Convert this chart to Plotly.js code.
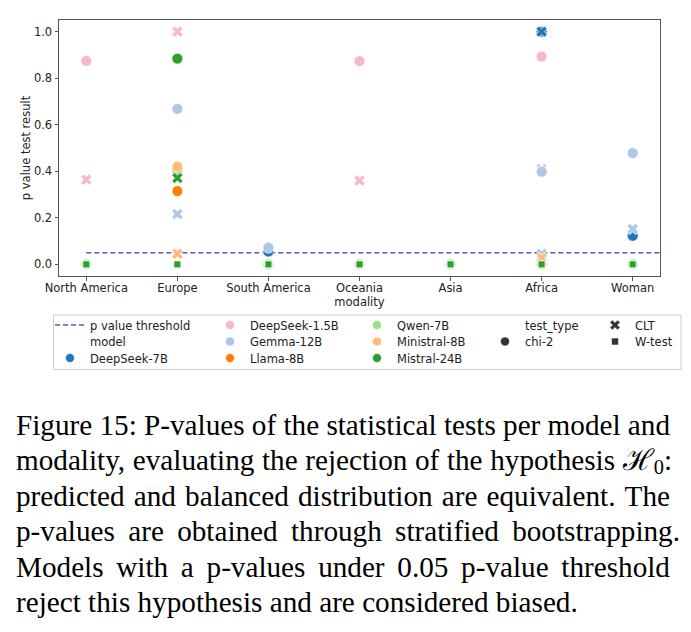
<!DOCTYPE html>
<html>
<head>
<meta charset="utf-8">
<script src="https://cdn.plot.ly/plotly-3.0.1.min.js"></script>
<style>
html,body{margin:0;padding:0;background:#fff;}
#wrap{position:relative;width:691px;height:632px;overflow:hidden;background:#fff;}
#chart{position:absolute;left:0;top:0;width:691px;height:632px;}
#caption{position:absolute;left:16px;top:408px;font-family:"Liberation Serif","Times New Roman",serif;font-size:29.2px;line-height:35.4px;color:#000;}
.ln{display:flex;justify-content:space-between;white-space:nowrap;}
.ln.last{justify-content:flex-start;gap:0.25em;}
sub{font-size:0.7em;line-height:0;vertical-align:-0.22em;}
</style>
</head>
<body>
<div id="wrap">
  <div id="chart"></div>
  <div id="caption"></div>
</div>
<script>
// ---------------- data ----------------
const categories = ["North America","Europe","South America","Oceania","Asia","Africa","Woman"];
const models = ["DeepSeek-7B","DeepSeek-1.5B","Gemma-12B","Llama-8B","Qwen-7B","Ministral-8B","Mistral-24B"];
const modelColors = ["#1f77b4","#f7b6d2","#aec7e8","#ff7f0e","#98df8a","#ffbb78","#2ca02c"];
const testTypes = ["chi-2","CLT","W-test"];

// p-values per modality (null = not visible in the figure)
const deepseek7b_chi2  = [null, null, 0.055, null, null, 1.0, 0.123];
const deepseek7b_clt   = [null, null, null, null, null, 1.0, null];
const deepseek7b_w     = [0, 0, 0, 0, 0, 0, 0];
const deepseek15b_chi2 = [0.874, null, null, 0.873, null, 0.893, null];
const deepseek15b_clt  = [0.364, 1.0, null, 0.360, null, 0.410, null];
const deepseek15b_w    = [0, 0, 0, 0, 0, 0, 0];
const gemma12b_chi2    = [null, 0.668, 0.072, null, null, 0.398, 0.478];
const gemma12b_clt     = [null, 0.216, null, null, null, 0.045, 0.152];
const gemma12b_w       = [0, 0, 0, 0, 0, 0, 0];
const llama8b_chi2     = [null, 0.315, null, null, null, null, null];
const llama8b_clt      = [null, null, null, null, null, null, null];
const llama8b_w        = [0, 0, 0, 0, 0, 0, 0];
const qwen7b_chi2      = [0, 0.405, 0, 0, 0, 0, 0];
const qwen7b_clt       = [null, null, null, null, null, null, null];
const qwen7b_w         = [0, 0, 0, 0, 0, 0, 0];
const ministral8b_chi2 = [null, 0.420, null, null, null, null, null];
const ministral8b_clt  = [null, 0.045, null, null, null, 0.028, null];
const ministral8b_w    = [0, 0, 0, 0, 0, 0, 0];
const mistral24b_chi2  = [null, 0.884, null, null, null, null, null];
const mistral24b_clt   = [null, 0.371, null, null, null, null, null];
const mistral24b_w     = [0, 0, 0, 0, 0, 0, 0];

const thresholdValue = 0.05;
const thresholdLabel = "p value threshold";
const yTickValues = [0.0, 0.2, 0.4, 0.6, 0.8, 1.0];

const captionLines = [
  "Figure 15: P-values of the statistical tests per model and",
  "modality, evaluating the rejection of the hypothesis ℋ<sub>0</sub>:",
  "predicted and balanced distribution are equivalent. The",
  "p-values are obtained through stratified bootstrapping.",
  "Models with a p-values under 0.05 p-value threshold",
  "reject this hypothesis and are considered biased."
];

// ---------------- build ----------------
const seriesByModel = [
  [deepseek7b_chi2, deepseek7b_clt, deepseek7b_w],
  [deepseek15b_chi2, deepseek15b_clt, deepseek15b_w],
  [gemma12b_chi2, gemma12b_clt, gemma12b_w],
  [llama8b_chi2, llama8b_clt, llama8b_w],
  [qwen7b_chi2, qwen7b_clt, qwen7b_w],
  [ministral8b_chi2, ministral8b_clt, ministral8b_w],
  [mistral24b_chi2, mistral24b_clt, mistral24b_w]
];
const symbolFor = {"chi-2":"circle","CLT":"x","W-test":"square"};
const sizeFor = {"chi-2":11,"CLT":10,"W-test":7};
const catIdx = categories.map((c,i)=>i);
const FONT = "DejaVu Sans, Arial, sans-serif";
const thrColor = "#5555cc";

const traces = [];
traces.push({
  type:"scatter", mode:"lines", x:[0, categories.length], y:[thresholdValue, thresholdValue],
  line:{color:thrColor, width:1.5, dash:"5px,3px"}, showlegend:false, hoverinfo:"skip"
});
models.forEach((m,i)=>{
  testTypes.forEach((t,j)=>{
    traces.push({
      type:"scatter", mode:"markers", name:m+" "+t,
      x:catIdx, y:seriesByModel[i][j],
      marker:{color:modelColors[i], size:sizeFor[t], symbol:symbolFor[t], line:{color:"#ffffff", width:0.8}},
      showlegend:false
    });
  });
});

// legend layout (one plotly legend per entry)
const L = 59, R = 31, T = 20, B = 356, W = 691, H = 632;
const PW = W - L - R, PH = H - T - B;
const colMarkerX = [70, 230, 377, 505, 615];
const rowY = [325, 341.5, 358];
const legendEntries = [
  {label:thresholdLabel, kind:"line", col:0, row:0},
  {label:"model", kind:"header", col:0, row:1},
  {label:models[0], kind:"marker", color:modelColors[0], symbol:"circle", col:0, row:2},
  {label:models[1], kind:"marker", color:modelColors[1], symbol:"circle", col:1, row:0},
  {label:models[2], kind:"marker", color:modelColors[2], symbol:"circle", col:1, row:1},
  {label:models[3], kind:"marker", color:modelColors[3], symbol:"circle", col:1, row:2},
  {label:models[4], kind:"marker", color:modelColors[4], symbol:"circle", col:2, row:0},
  {label:models[5], kind:"marker", color:modelColors[5], symbol:"circle", col:2, row:1},
  {label:models[6], kind:"marker", color:modelColors[6], symbol:"circle", col:2, row:2},
  {label:"test_type", kind:"header", col:3, row:0},
  {label:testTypes[0], kind:"marker", color:"#333333", symbol:"circle", col:3, row:1},
  {label:testTypes[1], kind:"marker", color:"#333333", symbol:"x", col:4, row:0},
  {label:testTypes[2], kind:"marker", color:"#333333", symbol:"square", col:4, row:1}
];

const layout = {
  width:W, height:H,
  margin:{l:L, r:R, t:T, b:B, autoexpand:false},
  paper_bgcolor:"#ffffff", plot_bgcolor:"#ffffff",
  font:{family:FONT, size:11.5, color:"#222222"},
  xaxis:{
    type:"linear", range:[-0.3, 6.3], tickvals:catIdx, ticktext:categories,
    showline:true, mirror:true, linecolor:"#555555", linewidth:1,
    ticks:"outside", ticklen:3.5, tickcolor:"#555555", showgrid:false, zeroline:false,
    ticklabelstandoff:-2,
    tickfont:{family:FONT, size:11.5, color:"#222222"},
    title:{text:"modality", font:{family:FONT, size:11.5, color:"#222222"}, standoff:0}
  },
  yaxis:{
    range:[-0.05, 1.05], tickvals:yTickValues, tickformat:".1f",
    showline:true, mirror:true, linecolor:"#555555", linewidth:1,
    ticks:"outside", ticklen:3.5, tickcolor:"#555555", showgrid:false, zeroline:false,
    tickfont:{family:FONT, size:11.5, color:"#222222"},
    title:{text:"p value test result", font:{family:FONT, size:11.5, color:"#222222"}, standoff:0}
  },
  shapes:[{
    type:"rect", xref:"paper", yref:"paper",
    x0:(53.5-L)/PW, x1:(681-L)/PW, y0:(T+PH-369.5)/PH, y1:(T+PH-315)/PH,
    line:{color:"#cccccc", width:1}, fillcolor:"rgba(0,0,0,0)", layer:"below"
  }],
  showlegend:true
};

legendEntries.forEach((e,k)=>{
  const lid = k===0 ? "legend" : "legend"+(k+1);
  const tr = {type:"scatter", x:[null], y:[null], name:e.label, legend:lid, showlegend:true, hoverinfo:"skip"};
  if(e.kind==="line"){
    tr.mode = "lines"; tr.line = {color:thrColor, width:1.5, dash:"5px,3px"};
  } else if(e.kind==="header"){
    tr.mode = "markers"; tr.marker = {color:"rgba(0,0,0,0)", size:8, line:{width:0}};
  } else {
    tr.mode = "markers";
    tr.marker = {color:e.color, symbol:e.symbol, size: e.symbol==="square"?7:9, line:{color:"#ffffff", width:0.6}};
  }
  traces.push(tr);
  layout[lid] = {
    x:(colMarkerX[e.col]-20-L)/PW, xanchor:"left",
    y:(T+PH-(rowY[e.row]-14.5))/PH, yanchor:"top",
    bgcolor:"rgba(0,0,0,0)", borderwidth:0,
    font:{family:FONT, size:11.5, color:"#222222"},
    orientation:"v", itemclick:false, itemdoubleclick:false
  };
});

Plotly.newPlot("chart", traces, layout, {staticPlot:true, displayModeBar:false});

// caption: fixed line breaks, each word its own span, justified with flex
const cap = document.getElementById("caption");
const lineWidths = [654, 656, 654, 664, 654, null];
captionLines.forEach((txt,i)=>{
  const d = document.createElement("div");
  d.className = (i === captionLines.length-1) ? "ln last" : "ln";
  if(lineWidths[i]) d.style.width = lineWidths[i]+"px";
  txt.split(" ").forEach(w=>{
    const s = document.createElement("span");
    s.innerHTML = w;
    d.appendChild(s);
  });
  cap.appendChild(d);
});
</script>
</body>
</html>
